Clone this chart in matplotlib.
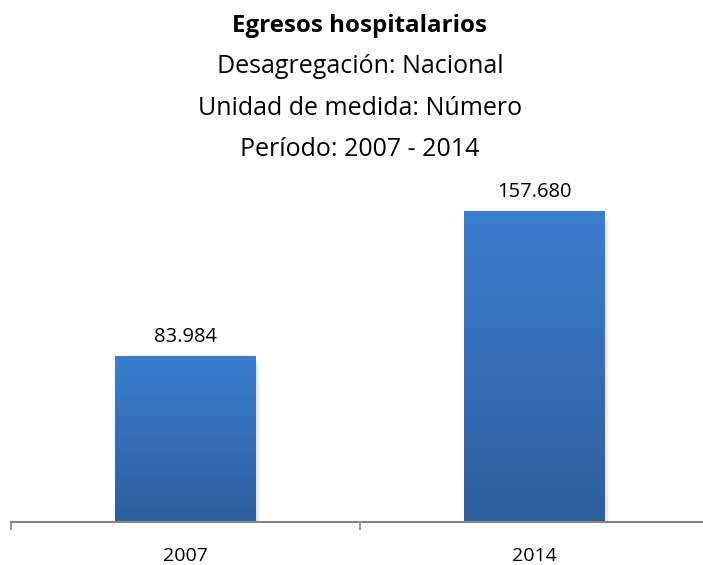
import matplotlib
matplotlib.use('Agg')
import matplotlib.pyplot as plt
import numpy as np
from matplotlib.colors import LinearSegmentedColormap

# datos
anios = ['2007', '2014']
egresos = [83984, 157680]
etiquetas = ['83.984', '157.680']
titulo = 'Egresos hospitalarios'
subtitulos = ['Desagregación: Nacional', 'Unidad de medida: Número', 'Período: 2007 - 2014']

plt.rcParams['font.family'] = ['Open Sans', 'DejaVu Sans']

W, H = 703, 565
fig = plt.figure(figsize=(W/100, H/100), dpi=100)
ax = fig.add_axes([11/W, (H-522)/H, 698/W, 354/H])

x = np.arange(len(anios))
bars = ax.bar(x, egresos, width=0.404, color='none', zorder=2)

# degradado y sombra
cmap = LinearSegmentedColormap.from_list('azul', ['#2d5e9c', '#3b7ecf'])
grad = np.linspace(0, 1, 256).reshape(-1, 1)
for b in bars:
    x0, w, h = b.get_x(), b.get_width(), b.get_height()
    for i, a in enumerate([0.05, 0.04, 0.03]):
        dx = 0.004 * (i + 1)
        ax.add_patch(plt.Rectangle((x0 + dx, -1500 * (i + 1)), w, h, color='k', alpha=a, zorder=1, lw=0))
    ax.imshow(grad, cmap=cmap, origin='lower', aspect='auto',
              extent=(x0, x0 + w, 0, h), zorder=2)

# etiquetas de datos
for xi, v, t in zip(x, egresos, etiquetas):
    ax.annotate(t, (xi, v), xytext=(0, 15), textcoords='offset pixels',
                ha='center', va='baseline', fontsize=14.5)

# etiquetas del eje x
for xi, t in zip(x, anios):
    ax.annotate(t, (xi, 0), xytext=(0, -39), textcoords='offset pixels',
                ha='center', va='baseline', fontsize=14, annotation_clip=False)

ax.set_xlim(-0.5, 1.5)
ax.set_ylim(0, 180000)
ax.set_xticks([-0.5, 0.5, 1.5])
ax.set_xticklabels([])
ax.tick_params(axis='x', length=6, color='#868686', width=1.2)
ax.set_yticks([])
for s in ['top', 'right', 'left']:
    ax.spines[s].set_visible(False)
ax.spines['bottom'].set_color('#868686')
ax.spines['bottom'].set_linewidth(1.5)
ax.spines['bottom'].set_zorder(3)

fig.text(360/W, 1 - 32/H, titulo, ha='center', va='baseline', fontsize=17.4, fontweight='bold')
for yy, s in zip([73, 115, 156], subtitulos):
    fig.text(360/W, 1 - yy/H, s, ha='center', va='baseline', fontsize=18)

fig.savefig('out.png', dpi=100)
